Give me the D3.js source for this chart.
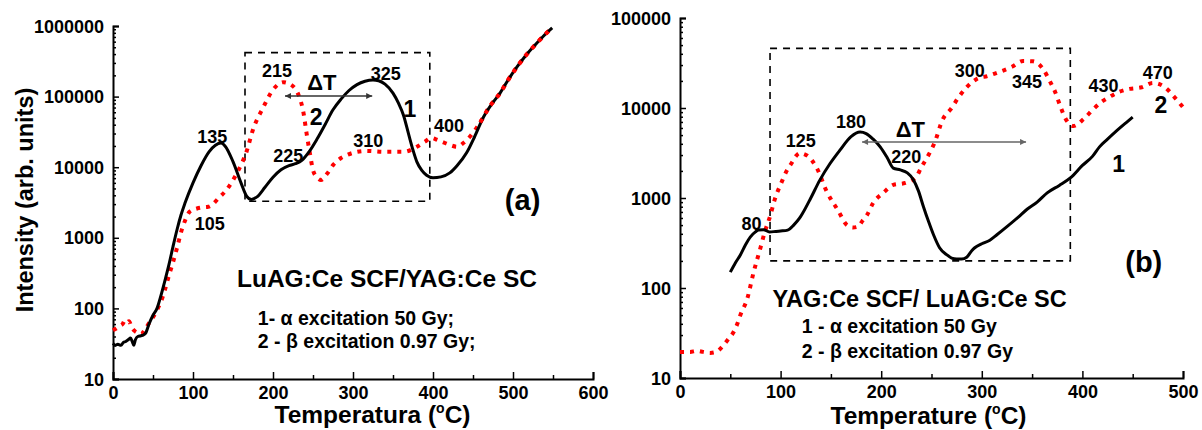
<!DOCTYPE html>
<html>
<head>
<meta charset="utf-8">
<script src="https://cdn.jsdelivr.net/npm/d3@7"></script>
<style>
  body { margin: 0; background: #fff; }
  svg { display: block; }
  text { font-family: Arial, "Liberation Sans", sans-serif; font-weight: bold; fill: #000; }
</style>
</head>
<body>
<svg id="chart" width="1202" height="430"></svg>
<script>
// ---- Panel (a): LuAG:Ce SCF / YAG:Ce SC glow curves, [temperature °C, intensity] ----
const alphaA = [
  [0,32],[3,30],[6,31],[10,30],[13,33],[16,34],[19,36],[22,38],[24,34],[26,30],[28,36],[31,40],
  [35,41],[38,42],[41,45],[45,60],[50,80],[55,100],[59,140],[65,250],[70,420],[75,750],[80,1300],
  [85,2100],[90,3100],[100,6000],[110,10500],[120,16500],[128,20500],[135,22000],[140,20000],
  [150,12000],[160,6000],[167,3900],[173,3500],[180,3800],[190,5200],[200,7200],[210,9200],
  [220,10500],[228,11200],[236,12500],[245,16500],[255,25000],[265,40000],[275,65000],[285,92000],
  [295,122000],[305,148000],[315,165000],[325,172000],[332,168000],[340,150000],[350,112000],
  [357,80000],[363,55000],[370,28000],[375,17500],[380,11800],[386,9000],[392,7700],[400,7100],
  [410,7300],[421,8300],[430,10500],[442,16000],[452,27000],[463,51000],[474,80000],[484,113000],
  [495,180000],[505,263000],[515,370000],[525,500000],[537,700000],[549,940000]
];
const betaA = [
  [0,49],[4,52],[8,56],[12,60],[15,68],[18,64],[20,66],[23,55],[27,48],[31,45],[35,43],[40,50],
  [45,62],[50,75],[55,95],[60,125],[65,185],[70,295],[75,450],[80,720],[86,1300],[90,1750],
  [96,2350],[105,2600],[112,2700],[119,2750],[125,3000],[131,3550],[142,4800],[155,8300],
  [167,16700],[175,34000],[188,71000],[200,125000],[213,160000],[225,140000],[232,105000],
  [238,60000],[242,30000],[246,16000],[250,9100],[255,7200],[260,6600],[268,8200],[275,10700],
  [285,13500],[292,14800],[305,16500],[317,17000],[338,16500],[363,16500],[380,19500],[390,23000],
  [398,26000],[405,24500],[413,22500],[422,20500],[430,19500],[438,22000],[446,27000],[459,43000],
  [470,70000],[484,113000],[495,180000],[505,263000],[515,370000],[525,500000],[537,700000],[549,950000]
];

// ---- Panel (b): YAG:Ce SCF / LuAG:Ce SC glow curves ----
const alphaB = [
  [50,150],[55,190],[60,233],[65,300],[70,370],[75,420],[78,440],[83,445],[89,420],[95,425],
  [100,430],[107,440],[113,500],[119,600],[122,680],[130,1000],[139,1580],[149,2400],[159,3400],
  [170,4800],[179,5400],[185,5200],[192,4500],[199,3700],[206,2800],[212,2150],[219,2050],
  [226,1900],[232,1600],[237,1200],[242,800],[247,550],[252,390],[258,280],[265,235],[270,215],
  [275,210],[280,210],[285,220],[290,260],[293,280],[300,310],[308,340],[315,390],[325,480],
  [336,610],[345,750],[355,900],[365,1140],[377,1380],[388,1670],[400,2300],[410,2900],
  [417,3700],[425,4500],[435,5700],[443,6800],[450,7900]
];
const betaB = [
  [0,19.5],[10,19.5],[17,20],[23,19.5],[30,19],[36,19.5],[43,23],[48,27],[53,32],[57,40],[60,50],
  [67,77],[73,147],[80,280],[84,410],[90,650],[94,950],[101,1500],[106,2000],[111,2450],[115,2900],
  [119,3150],[124,3050],[127,2930],[136,2150],[146,1170],[157,730],[166,500],[172,470],[177,480],
  [181,550],[186,650],[192,880],[202,1140],[212,1400],[224,1470],[234,1670],[240,2200],[247,3000],
  [253,4100],[261,7400],[270,10000],[277,13200],[285,17000],[295,21000],[306,22700],[318,25300],
  [330,28700],[341,33300],[351,33000],[361,27000],[368,19500],[373,15000],[378,10500],[383,7700],
  [391,6300],[401,7500],[410,9500],[419,11700],[426,13100],[437,15200],[447,16300],[459,17000],
  [470,19000],[482,17000],[491,13400],[500,10200]
];

// Axis ticks
const yTicksA = [10, 100, 1000, 10000, 100000, 1000000];
const yTicksB = [10, 100, 1000, 10000, 100000];
const xTicksA = [0, 100, 200, 300, 400, 500, 600];
const xTicksB = [0, 100, 200, 300, 400, 500];

// Peak temperature annotations: [text, T, intensity]
const peakLabelsA = [["135",124,22000],["215",205,190000],["225",219,11700],["325",341,172000],
                     ["310",319,19600],["400",420,31600],["105",121,1300]];
const peakLabelsB = [["125",120,3700],["180",170,6000],["220",225,2450],["80",71,440],
                     ["300",288,21900],["345",345,16700],["430",421,15000],["470",475,21000]];
// Curve numbers: [text, T, intensity]
const curveLabelsA = [["1",371,51000],["2",254,40000]];
const curveLabelsB = [["1",436,1940],["2",478,8800]];

// Region of interest boxes [T0, T1, Ilow, Ihigh] and ΔT arrows [T0, T1, I]
const boxA = [165, 396, 3300, 420000];
const boxB = [89.5, 388, 200, 46000];
const dTA = [215, 324, 102000];
const dTB = [181, 344, 4200];

const svg = d3.select("#chart");
const defs = svg.append("defs");
function addArrow(id, color) {
  defs.append("marker").attr("id", id).attr("viewBox", "0 0 10 10")
    .attr("refX", 10).attr("refY", 5).attr("markerWidth", 9).attr("markerHeight", 6)
    .attr("markerUnits", "userSpaceOnUse").attr("orient", "auto-start-reverse")
    .append("path").attr("d", "M0,0L10,5L0,10z").attr("fill", color);
}
addArrow("arrA", "#333");
addArrow("arrB", "#666");

function minorTicks(decades) {
  const out = [];
  for (let i = 0; i < decades.length - 1; i++)
    for (let m = 2; m <= 9; m++) out.push(decades[i] * m);
  return out;
}

function panel(cfg) {
  const x = d3.scaleLinear().domain(cfg.xDomain).range(cfg.xRange);
  const y = d3.scaleLog().domain(cfg.yDomain).range(cfg.yRange);
  const g = svg.append("g");

  // y axis
  const yAx = g.append("g").attr("transform", `translate(${cfg.xRange[0]},0)`)
    .call(d3.axisLeft(y).tickValues(cfg.yTicks).tickFormat(d3.format("d")).tickSize(-6).tickPadding(9));
  yAx.selectAll("text").style("font-size", "18px").attr("dy", "0.34em");
  g.append("g").attr("transform", `translate(${cfg.xRange[0]},0)`)
    .call(d3.axisLeft(y).tickValues(minorTicks(cfg.yTicks)).tickFormat("").tickSize(-3))
    .select(".domain").remove();

  // x axis
  const xMinor = d3.range(cfg.xDomain[0] + 50, cfg.xDomain[1], 100);
  const xAx = g.append("g").attr("transform", `translate(0,${cfg.yRange[0]})`)
    .call(d3.axisBottom(x).tickValues(cfg.xTicks).tickFormat(d3.format("d")).tickSize(-7).tickPadding(7));
  xAx.selectAll("text").style("font-size", "18px");
  g.append("g").attr("transform", `translate(0,${cfg.yRange[0]})`)
    .call(d3.axisBottom(x).tickValues(xMinor).tickFormat("").tickSize(-4))
    .select(".domain").remove();
  g.selectAll(".domain").attr("stroke-width", 2).attr("stroke", "#000");
  g.selectAll(".tick line").attr("stroke-width", 1.5).attr("stroke", "#000");

  // dashed region box
  const b = cfg.box;
  g.append("rect").attr("x", x(b[0])).attr("y", y(b[3]))
    .attr("width", x(b[1]) - x(b[0])).attr("height", y(b[2]) - y(b[3]))
    .attr("fill", "none").attr("stroke", "#000").attr("stroke-width", 1.6)
    .attr("stroke-dasharray", "7,6");

  const line = d3.line().x(d => x(d[0])).y(d => y(d[1])).curve(d3.curveMonotoneX);
  g.append("path").datum(cfg.beta).attr("d", line).attr("fill", "none")
    .attr("stroke", "#ff0000").attr("stroke-width", 4).attr("stroke-dasharray", "4,6");
  g.append("path").datum(cfg.alpha).attr("d", line).attr("fill", "none")
    .attr("stroke", "#000").attr("stroke-width", 3).attr("stroke-linejoin", "round");
  // red dots redrawn where the curves coincide at high temperature
  g.append("path").datum(cfg.beta.filter(d => d[0] >= cfg.overlapFrom)).attr("d", line).attr("fill", "none")
    .attr("stroke", "#ff0000").attr("stroke-width", 4).attr("stroke-dasharray", "4,6");

  // ΔT arrow
  const a = cfg.dT;
  g.append("line").attr("x1", x(a[0])).attr("x2", x(a[1])).attr("y1", y(a[2])).attr("y2", y(a[2]))
    .attr("stroke", cfg.arrowColor).attr("stroke-width", 1.5)
    .attr("marker-start", `url(#${cfg.arrowId})`).attr("marker-end", `url(#${cfg.arrowId})`);
  g.append("text").attr("x", x(cfg.dTLabel[0])).attr("y", y(cfg.dTLabel[1]))
    .attr("text-anchor", "middle").style("font-size", "22px").text("ΔT");

  g.selectAll(".peak").data(cfg.peaks).join("text").attr("class", "peak")
    .attr("x", d => x(d[1])).attr("y", d => y(d[2])).attr("text-anchor", "middle")
    .style("font-size", "18px").text(d => d[0]);
  g.selectAll(".cnum").data(cfg.curves).join("text").attr("class", "cnum")
    .attr("x", d => x(d[1])).attr("y", d => y(d[2])).attr("text-anchor", "middle")
    .style("font-size", "23px").text(d => d[0]);

  // panel tag
  g.append("text").attr("x", x(cfg.tag[1])).attr("y", y(cfg.tag[2])).attr("text-anchor", "middle")
    .style("font-size", "29px").text(cfg.tag[0]);

  // sample title and excitation notes
  g.append("text").attr("x", x(cfg.title[1])).attr("y", y(cfg.title[2]))
    .style("font-size", cfg.titleSize).text(cfg.title[0]);
  cfg.notes.forEach(n => {
    g.append("text").attr("x", x(n[1])).attr("y", y(n[2])).style("font-size", "19.5px").text(n[0]);
  });

  // x axis title
  const xt = g.append("text").attr("x", (cfg.xRange[0] + cfg.xRange[1]) / 2 + cfg.xTitleShift)
    .attr("y", cfg.xTitleY).attr("text-anchor", "middle").style("font-size", "24.5px");
  xt.append("tspan").text(cfg.xTitle + " (");
  xt.append("tspan").attr("dy", -10).style("font-size", "14px").text("o");
  xt.append("tspan").attr("dy", 10).text("C)");

  return { x, y, g };
}

panel({
  xDomain: [0, 600], xRange: [113, 593], yDomain: [10, 1e6], yRange: [379, 26],
  yTicks: yTicksA, xTicks: xTicksA, alpha: alphaA, beta: betaA, overlapFrom: 455,
  box: boxA, dT: dTA, dTLabel: [261, 124000], arrowId: "arrA", arrowColor: "#333",
  peaks: peakLabelsA, curves: curveLabelsA, tag: ["(a)", 512, 2450],
  title: ["LuAG:Ce SCF/YAG:Ce SC", 155, 200], titleSize: "24.5px",
  notes: [["1- α excitation 50 Gy;", 181, 58], ["2 - β excitation 0.97 Gy;", 181, 27.6]],
  xTitle: "Temperatura", xTitleShift: 19.5, xTitleY: 423
});

panel({
  xDomain: [0, 500], xRange: [680, 1183], yDomain: [10, 1e5], yRange: [378, 18],
  yTicks: yTicksB, xTicks: xTicksB, alpha: alphaB, beta: betaB, overlapFrom: 1000,
  box: boxB, dT: dTB, dTLabel: [229, 4800], arrowId: "arrB", arrowColor: "#666",
  peaks: peakLabelsB, curves: curveLabelsB, tag: ["(b)", 461, 150],
  title: ["YAG:Ce SCF/ LuAG:Ce SC", 92, 61], titleSize: "23.5px",
  notes: [["1 - α excitation 50 Gy", 121, 31.6], ["2 - β excitation 0.97 Gy", 121, 16.7]],
  xTitle: "Temperature", xTitleShift: -3, xTitleY: 424
});

// y axis title of panel (a)
svg.append("text").attr("transform", "translate(33,200) rotate(-90)")
  .attr("text-anchor", "middle").style("font-size", "23.5px").text("Intensity (arb. units)");
</script>
</body>
</html>
